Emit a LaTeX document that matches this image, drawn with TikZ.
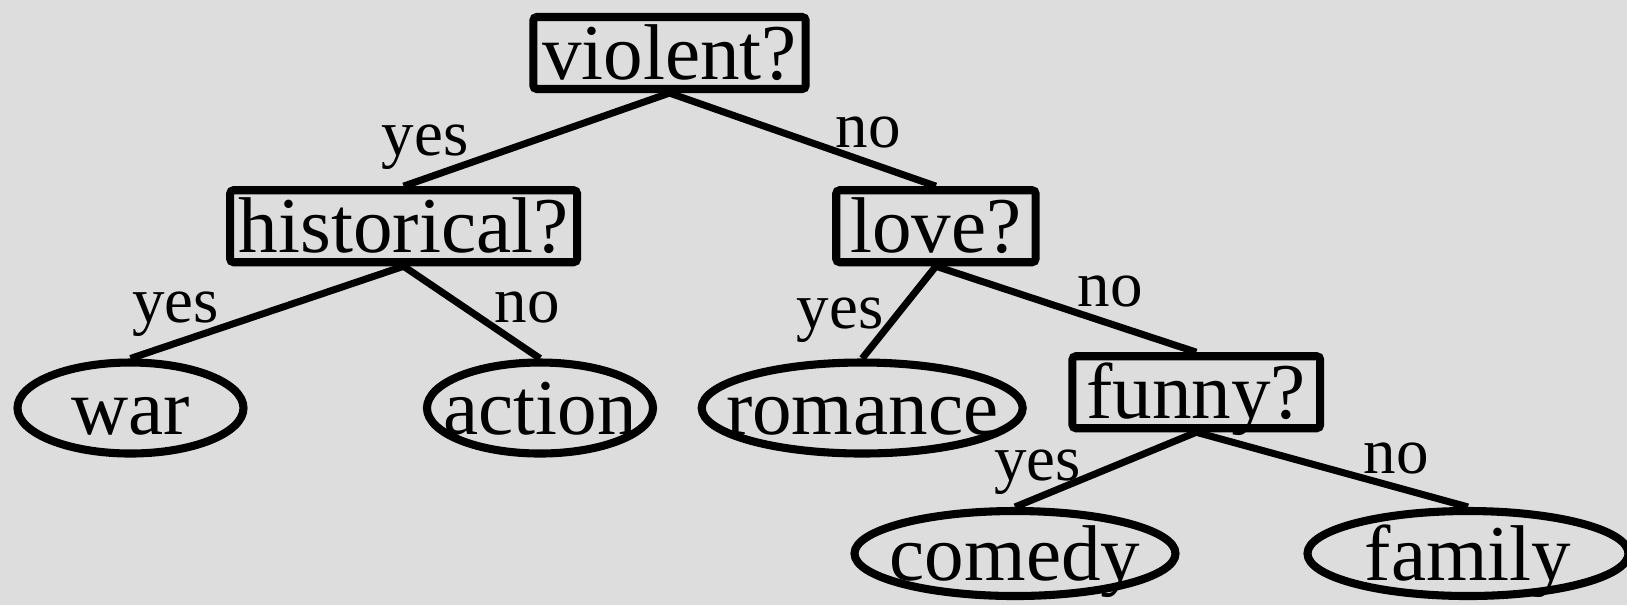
\documentclass[tikz,border=0pt]{standalone}
\usepackage{fontspec}
\setmainfont{Liberation Serif}
\usetikzlibrary{shapes.geometric}
\definecolor{canvasgray}{RGB}{221,221,221}
\tikzset{
  questbox/.style={draw, line width=2.3pt, rounded corners=1pt, inner xsep=2.5pt, inner ysep=0pt, minimum height=0.72cm, text height=15.2pt, text depth=0pt, font=\fontsize{22.5}{27}\selectfont},
  leafell/.style={draw, ellipse, line width=2.3pt, inner sep=0pt, minimum height=0.91cm, text height=15.2pt, text depth=0pt, font=\fontsize{22.5}{27}\selectfont},
  branch/.style={line width=2pt},
  answer/.style={anchor=base, inner sep=0pt, font=\fontsize{18.5}{22}\selectfont}
}

\begin{document}
\begin{tikzpicture}
\fill[canvasgray] (0,0) rectangle (16.27,-6.05);
\useasboundingbox (0,0) rectangle (16.27,-6.05);
\node[questbox] (violent) at (6.695,-0.53) {violent?};
\node[questbox] (historical) at (4.036,-2.262) {historical?};
\node[questbox, inner xsep=4pt] (love) at (9.359,-2.262) {love?};
\node[questbox, inner xsep=4pt] (funny) at (11.963,-3.922) {funny?};
\node[leafell, minimum width=2.26cm] (war) at (1.305,-4.08) {\makebox[0pt]{war}};
\node[leafell, minimum width=2.26cm] (action) at (5.40,-4.08) {\makebox[0pt]{action}};
\node[leafell, minimum width=3.21cm] (romance) at (8.622,-4.08) {\makebox[0pt]{romance}};
\node[leafell, minimum width=3.21cm, minimum height=0.85cm] (comedy) at (10.15,-5.535) {\makebox[0pt]{comedy}};
\node[leafell, minimum width=3.21cm, minimum height=0.85cm] (family) at (14.68,-5.535) {\makebox[0pt]{family}};
\draw[branch] (violent.south) -- (historical.north);
\draw[branch] (violent.south) -- (love.north);
\draw[branch] (historical.south) -- (war.north);
\draw[branch] (historical.south) -- (action.north);
\draw[branch] (love.south) -- (romance.north);
\draw[branch] (love.south) -- (funny.north);
\draw[branch] (funny.south) -- (comedy.north);
\draw[branch] (funny.south) -- (family.north);
\node[answer] (yes1) at (4.25,-1.55) {yes};
\node[answer] (no1) at (8.685,-1.47) {no};
\node[answer] (yes2) at (1.755,-3.22) {yes};
\node[answer] (no2) at (5.27,-3.22) {no};
\node[answer] (yes3) at (8.40,-3.28) {yes};
\node[answer] (no3) at (11.10,-3.06) {no};
\node[answer] (yes4) at (10.375,-4.80) {yes};
\node[answer] (no4) at (13.965,-4.73) {no};
\end{tikzpicture}
\end{document}
